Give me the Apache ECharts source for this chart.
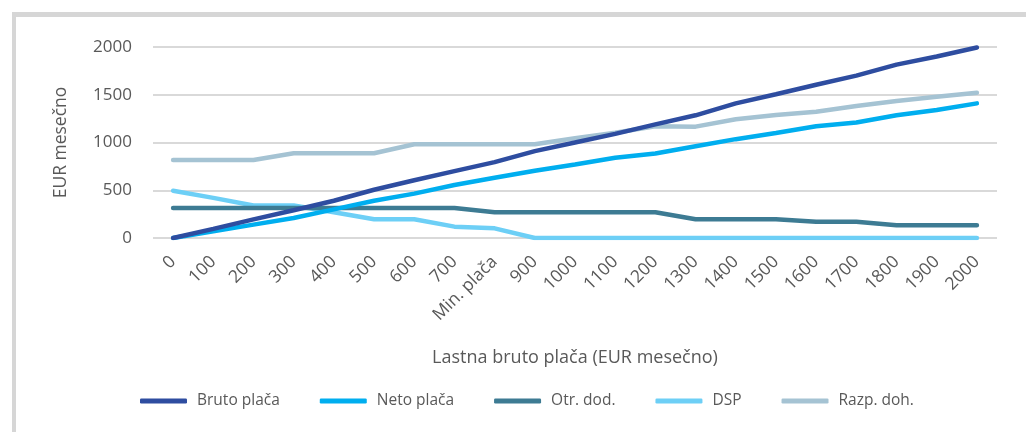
<!DOCTYPE html>
<html>
<head>
<meta charset="utf-8">
<script src="https://cdn.jsdelivr.net/npm/echarts@6/dist/echarts.min.js"></script>
<style>
  html, body { margin: 0; padding: 0; background: #fff; }
  #chart { width: 1026px; height: 432px; }
</style>
</head>
<body>
<div id="chart"></div>
<script>
const categories = ['0', '100', '200', '300', '400', '500', '600', '700', 'Min. plača', '900', '1000',
  '1100', '1200', '1300', '1400', '1500', '1600', '1700', '1800', '1900', '2000']
const yTicks = [0, 500, 1000, 1500, 2000]

const brutoPlaca = [0, 95, 195, 290, 390, 505, 605, 700, 795, 910, 1000,
  1090, 1190, 1285, 1410, 1505, 1605, 1700, 1815, 1900, 1995]
const netoPlaca = [0, 70, 140, 210, 300, 390, 465, 555, 630, 705, 770,
  840, 885, 960, 1035, 1100, 1170, 1210, 1285, 1340, 1410]
const otrDod = [315, 315, 315, 315, 315, 315, 315, 315, 269, 269, 269,
  269, 269, 196, 196, 196, 171, 171, 133, 133, 133]
const dsp = [495, 420, 340, 340, 269, 196, 196, 119, 101, 0, 0,
  0, 0, 0, 0, 0, 0, 0, 0, 0, 0]
const razpDoh = [817, 817, 817, 887, 887, 887, 981, 981, 981, 981, 1045,
  1103, 1170, 1166, 1243, 1288, 1323, 1382, 1434, 1480, 1522]

const font = 'Open Sans'
const textColor = '#595959'

const chart = echarts.init(document.getElementById('chart'))

const mkLine = (name, data, color) => ({
  name,
  type: 'line',
  data,
  symbol: 'none',
  smooth: false,
  lineStyle: { color, width: 4.5, cap: 'round' },
  itemStyle: { color },
  animation: false
})

chart.setOption({
  backgroundColor: '#fff',
  graphic: [
    { type: 'rect', shape: { x: 12, y: 12, width: 1014, height: 5 }, style: { fill: '#d6d6d6' }, silent: true },
    { type: 'rect', shape: { x: 12, y: 12, width: 4, height: 420 }, style: { fill: '#d6d6d6' }, silent: true }
  ],
  grid: { left: 153, right: 29, top: 47, bottom: 194 },
  legend: {
    left: 135,
    top: 388,
    icon: 'roundRect',
    itemWidth: 47,
    itemHeight: 5,
    itemGap: 40,
    textStyle: { fontFamily: font, fontSize: 15.5, color: textColor, padding: [0, 0, 0, 5] },
    data: ['Bruto plača', 'Neto plača', 'Otr. dod.', 'DSP', 'Razp. doh.']
  },
  xAxis: {
    type: 'category',
    data: categories,
    boundaryGap: true,
    name: 'Lastna bruto plača (EUR mesečno)',
    nameLocation: 'middle',
    nameGap: 111,
    nameTextStyle: { fontFamily: font, fontSize: 18, color: textColor },
    axisLine: { show: false },
    axisTick: { show: false },
    axisLabel: { interval: 0, rotate: 45, margin: 21, fontFamily: font, fontSize: 17.5, color: textColor }
  },
  yAxis: {
    type: 'value',
    min: yTicks[0],
    max: yTicks[yTicks.length - 1],
    interval: 500,
    name: 'EUR mesečno',
    nameLocation: 'middle',
    nameGap: 83,
    nameTextStyle: { fontFamily: font, fontSize: 17.5, color: textColor },
    axisLabel: { margin: 21, fontFamily: font, fontSize: 17, color: textColor, formatter: v => String(v) },
    splitLine: { lineStyle: { color: '#d9d9d9', width: 2 } }
  },
  series: [
    mkLine('Razp. doh.', razpDoh, '#a5c3d3'),
    mkLine('DSP', dsp, '#6dcff6'),
    mkLine('Otr. dod.', otrDod, '#3d7b93'),
    mkLine('Neto plača', netoPlaca, '#00aeef'),
    mkLine('Bruto plača', brutoPlaca, '#2e4da0')
  ]
})
</script>
</body>
</html>
